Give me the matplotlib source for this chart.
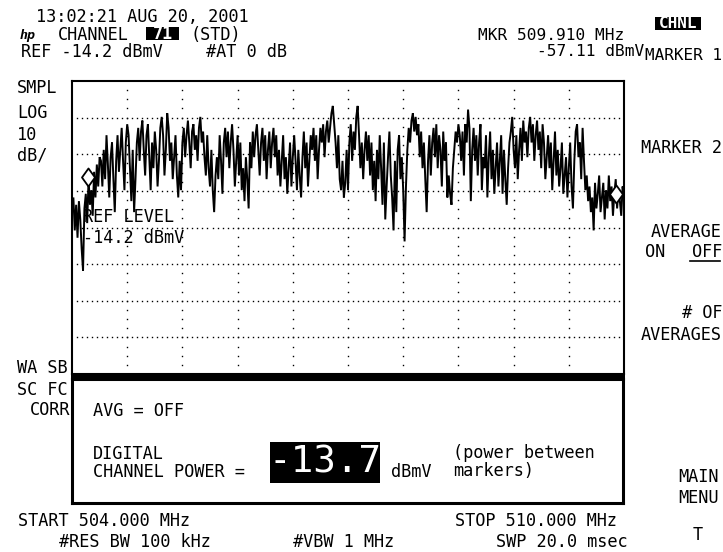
import matplotlib
matplotlib.use('Agg')
import matplotlib.pyplot as plt
import numpy as np
from matplotlib.patches import Rectangle
from matplotlib.path import Path

# ---------------- data ----------------
start_mhz = 504.0
stop_mhz = 510.0
ref_level = -14.2          # dBmV, top of screen
db_per_div = 10
n_vdiv = 8
n_hdiv = 10

trace_dbmv = [
    # left skirt
    -50, -46, -55, -48, -57, -47, -52, -60, -66, -49, -45, -53, -41, -48, -44,
    -51, -39, -46, -37, -43, -35,
    -36, -43, -33, -41, -29, -37, -46, -35, -31, -41, -50, -36, -29, -39, -33,
    -27, -36, -44, -31, -26,
    # channel
    -29, -38, -47, -33, -50, -41, -31, -27, -36, -28, -25, -33, -40, -29, -26,
    -35, -44, -31, -38, -28, -33, -43, -36, -27, -24, -29, -40, -33, -23, -27,
    -36, -31, -41, -35, -29, -40, -46, -36, -44, -31,
    -27, -35, -29, -25, -31, -38, -28, -26, -33, -29, -36, -27, -24, -31, -28,
    -35, -40, -29, -38, -43, -33, -44, -50, -40, -35, -41, -29, -36, -45, -31,
    -27, -35, -28, -38, -31, -26, -33, -43, -36, -29,
    -40, -31, -44, -38, -47, -35, -41, -49, -31, -38, -28, -35, -29, -26, -33,
    -40, -31, -27, -36, -29, -41, -33, -28, -38, -31, -27, -35, -29, -40, -33,
    -43, -36, -29, -41, -35, -45, -38, -31, -43, -35,
    -29, -36, -44, -33, -40, -46, -35, -28, -38, -31, -43, -36, -29, -33, -27,
    -36, -29, -41, -33, -27, -31, -26, -35, -28, -25, -31, -27, -23, -21, -26,
    -31, -38, -29, -41, -44, -36, -46, -42, -33, -44,
    -31, -26, -36, -28, -33, -24, -21, -29, -38, -31, -41, -33, -28, -36, -29,
    -40, -31, -44, -36, -47, -33, -41, -29, -38, -48, -31, -52, -43, -35, -28,
    -40, -46, -55, -36, -50, -33, -29, -41, -35, -44,
    -58, -43, -33, -27, -31, -25, -23, -28, -24, -29, -26, -35, -28, -38, -31,
    -41, -50, -36, -29, -40, -31, -27, -35, -26, -38, -29, -33, -43, -28, -36,
    -31, -46, -40, -45, -48, -38, -33, -28, -31, -26,
    -29, -36, -28, -40, -26, -31, -22, -27, -47, -33, -27, -36, -29, -40, -31,
    -26, -44, -35, -38, -29, -46, -35, -28, -41, -33, -45, -38, -31, -43, -36,
    -29, -45, -33, -41, -48, -38, -31, -28, -24, -33,
    -38, -29, -41, -33, -27, -36, -25, -31, -28, -35, -27, -24, -31, -26, -36,
    -29, -25, -33, -28, -38, -26, -31, -41, -35, -29, -38, -31, -44, -36, -28,
    -40, -33, -43, -38, -31, -45, -40, -35, -46, -38,
    # right skirt
    -31, -43, -49, -36, -28, -26, -35, -31, -41, -27, -36, -44, -40, -47, -43,
    -50, -46, -55, -42, -49, -45, -40, -50, -46, -42, -52, -44, -49, -40, -47,
    -43, -51, -45, -41, -49, -44, -47, -51, -43, -46,
]

marker_mhz = [504.17, 509.91]
marker_dbmv = [-40.5, -45.0]

channel_power = "-13.7"

# ---------------- figure ----------------
W, H = 723, 552
fig = plt.figure(figsize=(W / 100, H / 100), dpi=100)
fig.patch.set_facecolor('white')

FONT = 'DejaVu Sans Mono'
FS = 12.2


def T(x, y, s, size=FS, color='black', ha='left', va='baseline', **kw):
    return fig.text(x / W, 1 - y / H, s, fontsize=size, family=FONT,
                    color=color, ha=ha, va=va, **kw)


def box(x0, y0, x1, y1, fc='black'):
    fig.patches.append(Rectangle((x0 / W, 1 - y1 / H), (x1 - x0) / W, (y1 - y0) / H,
                                 transform=fig.transFigure, facecolor=fc,
                                 edgecolor='none', zorder=0))


# main graticule
L, R, TOP, BOT = 72, 624, 81, 374
ax = fig.add_axes([L / W, 1 - BOT / H, (R - L) / W, (BOT - TOP) / H])
ax.set_xlim(start_mhz, stop_mhz)
bottom_level = ref_level - n_vdiv * db_per_div
ax.set_ylim(bottom_level, ref_level)
ax.set_xticks([])
ax.set_yticks([])
for s in ax.spines.values():
    s.set_linewidth(1.5)
    s.set_color('black')

span = stop_mhz - start_mhz
# horizontal dotted grid lines
hx = np.linspace(start_mhz, stop_mhz, n_hdiv * 11 + 1)[1:-1]
for k in range(1, n_vdiv):
    lvl = ref_level - k * db_per_div
    ax.plot(hx, np.full_like(hx, lvl), ls='none', marker='s', ms=1.0,
            color='black', mec='none')
# vertical dotted grid lines
vy = np.arange(bottom_level, ref_level, db_per_div / 4)[1:]
for k in range(1, n_hdiv):
    f = start_mhz + k * span / n_hdiv
    ax.plot(np.full_like(vy, f), vy, ls='none', marker='s', ms=1.0,
            color='black', mec='none')

ax.text(504.12, ref_level - 38.6, "REF LEVEL", fontsize=FS, family=FONT,
        va='baseline', ha='left')
ax.text(504.12, ref_level - 44.1, "-14.2 dBmV", fontsize=FS, family=FONT,
        va='baseline', ha='left')

freqs = np.linspace(start_mhz, stop_mhz, len(trace_dbmv))
ax.plot(freqs, trace_dbmv, color='black', lw=1.4, solid_joinstyle='miter')

diamond = Path([(0, 1), (0.72, 0), (0, -1), (-0.72, 0), (0, 1)],
               [Path.MOVETO, Path.LINETO, Path.LINETO, Path.LINETO, Path.CLOSEPOLY])
ax.plot(marker_mhz, marker_dbmv, ls='none', marker=diamond, ms=13,
        mfc='white', mec='black', mew=1.3, zorder=5)

# thick separator bar and lower box
box(L - 1, 373, R + 1, 380)
ax2 = fig.add_axes([L / W, 1 - 503 / H, (623 - L) / W, (503 - 379) / H])
ax2.set_xticks([])
ax2.set_yticks([])
ax2.patch.set_alpha(0)
for s in ax2.spines.values():
    s.set_linewidth(2.2)

# ---------------- header text ----------------
T(142.5, 21.5, "13:02:21 AUG 20, 2001", ha='center')
T(20, 39.5, "hp", size=9.5, style='italic', weight='bold')
T(93.5, 39.5, "CHANNEL", ha='center')
box(146, 27, 179, 40)
T(162.5, 39, "71", color='white', ha='center', weight='bold')
T(216, 39.5, "(STD)", ha='center')
T(92, 57, "REF -14.2 dBmV", ha='center')
T(246.5, 57, "#AT 0 dB", ha='center')

T(551.5, 39.5, "MKR 509.910 MHz", ha='center', size=11.6)
T(644, 56, "-57.11 dBmV", ha='right', size=11.6)
box(655, 17, 701, 30)
T(678, 28.5, "CHNL", color='white', ha='center', weight='bold', size=11.5)
T(645, 60, "MARKER 1", size=11.5)

# left labels
T(17, 93, "SMPL")
T(17, 118, "LOG")
T(17, 140, "10")
T(17, 160, "dB/")
T(17, 373, "WA SB")
T(17, 395, "SC FC")
T(70, 415, "CORR", ha='right')

# right softkeys
T(722, 153, "MARKER 2", ha='right')
T(722, 237, "AVERAGE", ha='right')
T(645, 257, "ON")
T(722, 257, "OFF", ha='right')
fig.add_artist(plt.Line2D([690 / W, 720 / W], [1 - 261 / H, 1 - 261 / H], color='black', lw=1.2))
T(722, 318, "# OF", ha='right')
T(722, 340, "AVERAGES", ha='right')
T(678, 482, "MAIN")
T(678, 503, "MENU")
T(693, 540, "T")

# lower box text
T(93, 416, "AVG = OFF")
T(93, 459, "DIGITAL")
T(93, 477, "CHANNEL POWER =")
box(270, 442, 380, 483)
T(325, 462.5, channel_power, color='white', ha='center', va='center', size=27)
T(411, 477, "dBmV", ha='center')
T(524, 458, "(power between", ha='center')
T(493.5, 476, "markers)", ha='center')

# footer
T(18, 526, "START 504.000 MHz")
T(536, 526, "STOP 510.000 MHz", ha='center')
T(135, 547, "#RES BW 100 kHz", ha='center')
T(343.5, 547, "#VBW 1 MHz", ha='center')
T(561.5, 547, "SWP 20.0 msec", ha='center')

fig.savefig('out.png', dpi=100, facecolor='white')
